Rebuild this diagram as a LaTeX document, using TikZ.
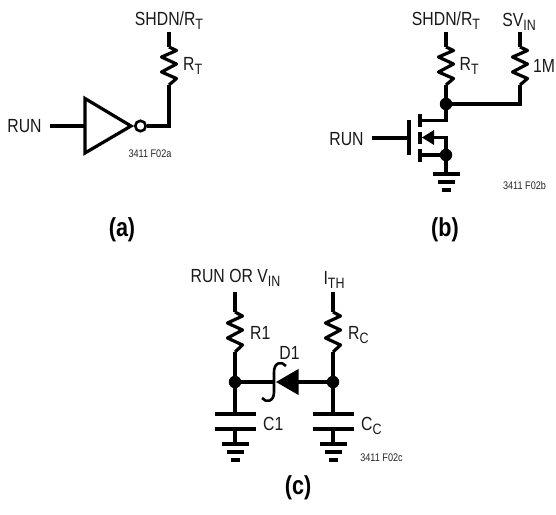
\documentclass[tikz,border=0pt]{standalone}
\usepackage{fontspec}
\setmainfont{Liberation Sans}[FakeStretch=0.83]
\newcommand{\lowsub}[1]{{\fontsize{15}{15}\selectfont\raisebox{-4pt}{#1}}}
\begin{document}
\begin{tikzpicture}[x=1pt,y=-1pt,
  wire/.style={line width=3.2pt,line join=miter,line cap=butt},
  lbl/.style={inner sep=0pt,font=\fontsize{19}{19}\selectfont,text=black!90},
  tinylbl/.style={inner sep=0pt,font=\fontsize{11}{11}\selectfont,text=black!85},
  figcap/.style={inner sep=0pt,font=\fontsize{26}{26}\selectfont\bfseries},
  jdot/.style={circle,fill=black,inner sep=0pt,minimum size=12.5pt},
  bubble/.style={circle,draw=black,line width=2.6pt,fill=white,inner sep=0pt,minimum size=10.5pt},
  plate/.style={line width=3.4pt},
  resistor/.pic={\draw[wire,line join=round] (0,0) -- (7.5,3.5) -- (-7.5,10) -- (7.5,17) -- (-7.5,25) -- (7.5,31.5) -- (0,38);},
  rlong/.pic={\draw[wire,line join=round] (0,0) -- (7.5,4) -- (-7.5,11) -- (7.5,18) -- (-7.5,26) -- (7.5,33) -- (0,40);},
  earth/.pic={\draw[plate] (-13.5,0) -- (13.5,0);\draw[plate] (-8.5,8) -- (8.5,8);\draw[line width=4pt] (-4.5,16) -- (4.5,16);}
]
\useasboundingbox (0,0) rectangle (556,514);
\fill[white] (0,0) rectangle (556,514);

% ---------- (a)
\node[lbl,anchor=center] (arun) at (24.5,126) {RUN};
\node[lbl] (ashdn) at (169,20.5) {SHDN/R\lowsub{T}};
\node[lbl,anchor=west] (art) at (183,66) {R\lowsub{T}};
\node[tinylbl] (afig) at (150,154) {3411 F02a};
\node[figcap] (acap) at (122,230) {(a)};
\coordinate (ain) at (50,126);
\coordinate (atl) at (85,98.5);
\coordinate (abl) at (85,153);
\coordinate (atip) at (131,126);
\coordinate (ainv) at (85,126);
\node[bubble] (abub) at (140.5,126) {};
\coordinate (acorner) at (169,126);
\coordinate (artop) at (169,47);
\coordinate (arbot) at (169,85);
\coordinate (apin) at (169,32);
\draw[wire] (ain) -- (ainv);
\draw[wire] (atl) -- (abl) -- (atip) -- cycle;
\draw[wire] (abub) -- (acorner) -- (arbot);
\pic at (artop) {resistor};
\draw[wire] (apin) -- (artop);

% ---------- (b)
\node[lbl] (bshdn) at (446,20.5) {SHDN/R\lowsub{T}};
\node[lbl] (bsv) at (519,22) {SV\lowsub{IN}};
\node[lbl,anchor=west] (brt) at (459.5,66) {R\lowsub{T}};
\node[lbl,anchor=west] (bm) at (533,66) {1M};
\node[lbl] (brun) at (346.5,139) {RUN};
\node[tinylbl] (bfig) at (524.5,186) {3411 F02b};
\node[figcap] (bcap) at (445,230) {(b)};
\coordinate (bp1) at (446,32);
\coordinate (br1t) at (446,47);
\coordinate (br1b) at (446,85);
\coordinate (bp2) at (520,32);
\coordinate (br2t) at (520,47);
\coordinate (br2b) at (520,85);
\coordinate (bc2) at (520,104);
\node[jdot] (bd1) at (446,104) {};
\node[jdot] (bd2) at (446,155) {};
\coordinate (bdr) at (446,120.5);
\coordinate (bdrin) at (420,120.5);
\coordinate (bsin) at (420,155);
\coordinate (bgnd) at (446,174);
\coordinate (bgin) at (372,138);
\coordinate (bgate) at (409,138);
\coordinate (bgt) at (409,120);
\coordinate (bgb) at (409,155);
\coordinate (bbody) at (446,137.5);
\coordinate (btip) at (422,137.5);
\coordinate (bbase) at (433,137.5);
\draw[wire] (bp1) -- (br1t);
\pic at (br1t) {resistor};
\draw[wire] (br1b) -- (bd1);
\draw[wire] (bp2) -- (br2t);
\pic at (br2t) {resistor};
\draw[wire] (br2b) -- (bc2) -- (bd1);
\draw[wire] (bd1) -- (bdr) -- (bdrin);
\draw[wire] (bgin) -- (bgate);
\draw[wire] (bgt) -- (bgb);
\draw[wire] (420,114) -- (420,127);
\draw[wire] (420,132) -- (420,144);
\draw[wire] (420,149) -- (420,162);
\draw[wire] (bbase) -- (bbody) -- (bd2);
\fill (btip) -- (434,130) -- (434,145) -- cycle;
\draw[wire] (bsin) -- (bd2) -- (bgnd);
\pic at (bgnd) {earth};

% ---------- (c)
\node[lbl] (crun) at (235.5,278) {RUN OR V\lowsub{IN}};
\node[lbl] (cith) at (334,280) {I\lowsub{TH}};
\node[lbl,anchor=west] (cr1) at (250,333) {R1};
\node[lbl,anchor=west] (crc) at (348,335) {R\lowsub{C}};
\node[lbl] (cd1) at (289.5,353) {D1};
\node[lbl,anchor=west] (cc1) at (263,424) {C1};
\node[lbl,anchor=west] (ccc) at (361,426) {C\lowsub{C}};
\node[tinylbl] (cfig) at (381.5,458) {3411 F02c};
\node[figcap] (ccap) at (298,488) {(c)};
\coordinate (cp1) at (235,292);
\coordinate (crt1) at (235,312);
\coordinate (crb1) at (235,352);
\node[jdot] (cd) at (235,382) {};
\coordinate (ccap1) at (235,414);
\coordinate (ccap1b) at (235,429);
\coordinate (cg1) at (235,444);
\coordinate (cp2) at (333,292);
\coordinate (crt2) at (333,312);
\coordinate (crb2) at (333,352);
\node[jdot] (ce) at (333,382) {};
\coordinate (ccap2) at (333,414);
\coordinate (ccap2b) at (333,429);
\coordinate (cg2) at (333,444);
\coordinate (cbar) at (274,382);
\coordinate (cdb) at (296,382);
\draw[wire] (cp1) -- (crt1);
\pic at (crt1) {rlong};
\draw[wire] (crb1) -- (cd) -- (ccap1);
\draw[wire] (ccap1b) -- (cg1);
\draw[plate] (214.5,414) -- (255.5,414);
\draw[plate] (214.5,429) -- (255.5,429);
\pic at (cg1) {earth};
\draw[wire] (cp2) -- (crt2);
\pic at (crt2) {rlong};
\draw[wire] (crb2) -- (ce) -- (ccap2);
\draw[wire] (ccap2b) -- (cg2);
\draw[plate] (312.5,414) -- (353.5,414);
\draw[plate] (312.5,429) -- (353.5,429);
\pic at (cg2) {earth};
\draw[wire] (cd) -- (cbar);
\draw[wire] (ce) -- (cdb);
\fill (276,382) -- (298.5,369) -- (298.5,395) -- cycle;
\draw[line width=2.6pt] (286,366) .. controls (282,361) and (274,362) .. (274,372) -- (274,392) .. controls (274,402) and (266,403) .. (262,398);
\end{tikzpicture}
\end{document}
